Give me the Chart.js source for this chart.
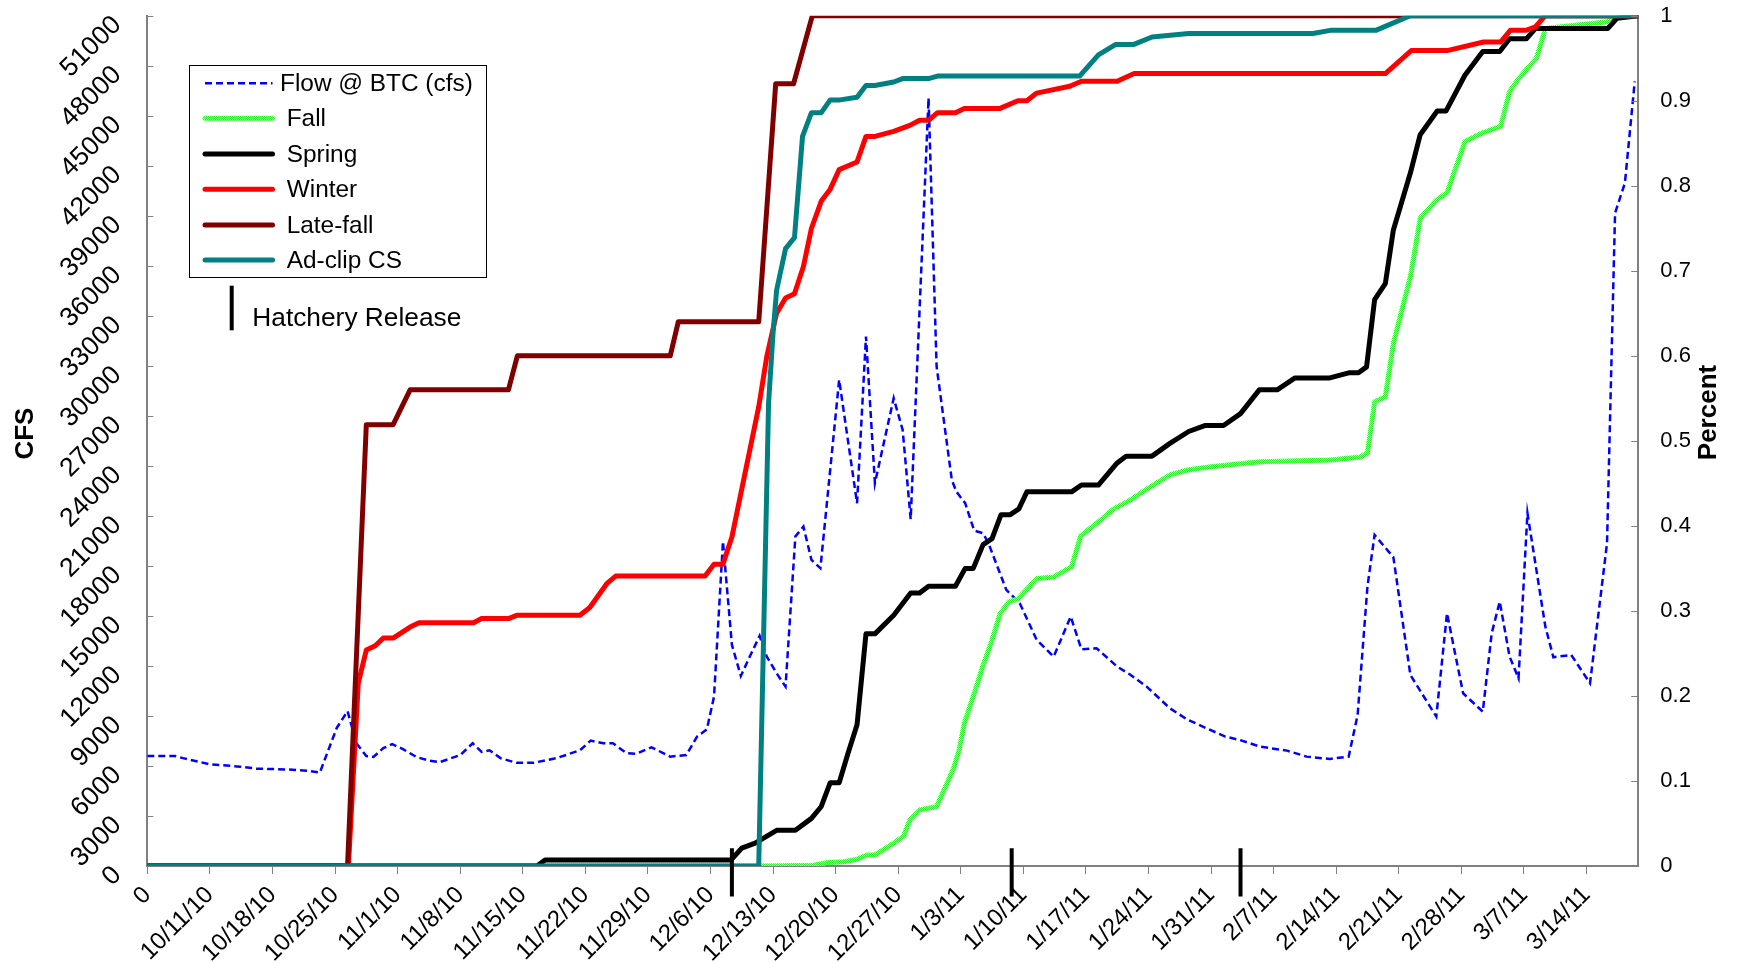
<!DOCTYPE html>
<html><head><meta charset="utf-8">
<script src="https://cdn.jsdelivr.net/npm/chart.js@4.4.0/dist/chart.umd.min.js"></script>
<style>html,body{margin:0;padding:0;background:#fff;overflow:hidden}canvas{display:block}</style>
</head><body>
<canvas id="c" width="1739" height="963"></canvas>
<script>
// ---------- DATA ----------
// x = days since 10/4/10
const xTickLabels = ["0","10/11/10","10/18/10","10/25/10","11/1/10","11/8/10","11/15/10","11/22/10","11/29/10","12/6/10","12/13/10","12/20/10","12/27/10","1/3/11","1/10/11","1/17/11","1/24/11","1/31/11","2/7/11","2/14/11","2/21/11","2/28/11","3/7/11","3/14/11"];
const cfsTicks = [0,3000,6000,9000,12000,15000,18000,21000,24000,27000,30000,33000,36000,39000,42000,45000,48000,51000];
const pctTicks = [0,0.1,0.2,0.3,0.4,0.5,0.6,0.7,0.8,0.9,1];

const flowDays = [0,3.1,4.0,7.0,10.4,12.2,15.6,17.8,19.3,21.2,22.4,23.4,24.5,25.3,26.4,27.4,28.6,30.1,31.6,32.7,35.0,36.4,37.4,38.3,39.5,41.3,43.2,45.8,48.4,49.6,51.0,52.1,53.6,54.7,56.4,58.5,60.3,61.5,62.6,63.4,64.4,65.4,66.4,67.4,68.5,69.3,70.4,71.4,72.5,73.4,74.3,75.3,77.4,79.4,80.4,81.4,83.5,84.5,85.4,87.4,88.3,90.0,90.5,91.5,92.5,93.5,94.1,96.1,97.6,99.5,101.4,103.3,104.5,106.2,108.5,109.9,111.8,114.4,116.3,118.5,120.6,122.2,124.5,127.5,129.7,132.3,134.4,135.4,136.5,137.3,139.4,141.3,144.2,145.4,147.2,149.4,150.4,151.3,152.4,153.4,154.4,156.4,157.3,159.3,161.4,163.3,164.2,165.3,166.4];
const flowCfs = [6600,6600,6470,6100,5960,5840,5790,5720,5600,8290,9290,7360,6590,6540,7070,7310,7010,6540,6310,6230,6650,7360,6840,6940,6470,6190,6190,6470,6940,7520,7360,7360,6770,6730,7120,6560,6660,7760,8200,10160,19460,13260,11400,12560,13800,12560,11560,10760,19760,20360,18360,17860,29160,21760,31760,22960,28060,26160,20800,46060,29960,23160,22460,21760,20120,19960,19360,16560,15760,13560,12560,14960,13000,13060,11960,11500,10760,9460,8800,8260,7760,7560,7160,6920,6560,6420,6560,9060,16760,19860,18520,11460,8960,15160,10360,9260,13960,15860,12560,11260,21160,14360,12520,12660,10960,19360,39160,40960,47060];

const fallDays = [0,68.5,74.5,76.0,77.9,79.4,80.5,81.4,83.5,84.6,85.3,86.4,88.3,90.2,90.8,91.4,92.5,93.5,94.5,95.4,96.4,97.4,99.5,101.4,103.4,104.4,106.2,108.1,109.9,112.2,114.4,116.5,118.5,122.2,124.5,132.3,135.7,136.5,137.3,138.5,139.4,141.3,142.4,144.2,145.4,147.4,149.3,151.4,152.4,153.4,155.4,156.4,163.3,164.7,166.8];
const fallPct = [0,0,0.001,0.004,0.005,0.008,0.013,0.013,0.027,0.035,0.054,0.066,0.070,0.115,0.136,0.168,0.203,0.236,0.266,0.297,0.311,0.314,0.338,0.340,0.352,0.388,0.403,0.420,0.430,0.446,0.460,0.466,0.469,0.473,0.4755,0.4775,0.481,0.486,0.546,0.552,0.615,0.693,0.762,0.783,0.792,0.852,0.862,0.870,0.911,0.926,0.950,0.985,0.993,0.998,1];

const springDays = [0,43.6,44.5,65.3,66.5,68.0,70.4,72.5,74.3,75.4,76.4,77.4,78.4,79.4,80.4,81.4,83.5,85.4,86.4,87.4,90.4,91.5,92.4,93.5,94.5,95.5,96.5,97.5,98.4,103.4,104.5,106.4,108.5,109.5,112.4,114.4,116.5,118.3,120.4,122.3,124.4,126.4,128.4,132.3,134.4,135.5,136.4,137.3,138.5,139.4,141.3,142.4,144.3,145.3,147.4,149.4,151.3,152.4,154.3,155.3,163.4,164.4,166.8];
const springPct = [0,0,0.007,0.007,0.021,0.027,0.042,0.042,0.056,0.070,0.098,0.098,0.133,0.166,0.273,0.273,0.295,0.321,0.321,0.329,0.329,0.350,0.350,0.378,0.385,0.413,0.413,0.420,0.440,0.440,0.448,0.448,0.474,0.482,0.482,0.497,0.511,0.518,0.518,0.532,0.560,0.560,0.574,0.574,0.580,0.580,0.587,0.666,0.685,0.748,0.815,0.860,0.888,0.888,0.930,0.958,0.958,0.973,0.973,0.985,0.985,0.997,1];

const winterDays = [0,22.5,23.6,24.5,25.5,26.4,27.5,29.4,30.4,36.5,37.4,40.4,41.4,48.4,49.5,51.4,52.4,62.4,63.4,64.4,65.4,68.4,69.3,70.4,71.4,72.4,73.4,74.3,75.4,76.4,77.4,79.4,80.4,81.4,83.5,85.3,86.4,87.4,88.4,90.4,91.4,95.4,97.4,98.4,99.5,103.2,104.5,108.5,110.4,138.5,141.4,145.4,149.5,151.4,152.5,154.3,155.3,156.4,166.8];
const winterPct = [0,0,0.215,0.254,0.259,0.268,0.268,0.281,0.286,0.286,0.291,0.291,0.295,0.295,0.304,0.332,0.341,0.341,0.355,0.355,0.387,0.540,0.599,0.650,0.668,0.673,0.705,0.750,0.782,0.796,0.819,0.828,0.858,0.858,0.864,0.871,0.877,0.877,0.886,0.886,0.891,0.891,0.900,0.900,0.909,0.917,0.923,0.923,0.932,0.932,0.959,0.959,0.969,0.969,0.983,0.983,0.987,1,1];

const lateFallDays = [0,22.4,24.5,27.5,29.4,40.4,41.4,58.5,59.4,68.4,70.3,72.3,74.4,166.8];
const lateFallPct = [0,0,0.519,0.519,0.56,0.56,0.6,0.6,0.64,0.64,0.92,0.92,1,1];

const adClipDays = [0,68.4,69.5,70.0,70.4,71.4,72.4,73.3,74.3,75.4,76.4,77.5,79.4,80.4,81.4,83.5,84.5,87.4,88.4,104.3,106.4,108.3,110.3,112.4,116.5,130.4,132.5,137.5,141.3,166.8];
const adClipPct = [0,0,0.544,0.626,0.677,0.726,0.739,0.858,0.886,0.886,0.901,0.901,0.904,0.918,0.918,0.922,0.926,0.926,0.929,0.929,0.954,0.966,0.966,0.975,0.979,0.979,0.983,0.983,1,1];

const hatcheryDays = [65.4, 96.7, 122.3];

// ---------- STYLE ----------
const FONT = '"Liberation Sans", Arial, Helvetica, sans-serif';
Chart.defaults.font.family = FONT;
Chart.defaults.color = '#000';
const AXIS_GREY = '#808080';
const X_MAX = 166.8;
const HATCH_TOP = 0.021, HATCH_BOTTOM = -0.036;

const canvas = document.getElementById('c');
const mainCtx = canvas.getContext('2d');
const pc = document.createElement('canvas'); pc.width = 2; pc.height = 2;
const pg = pc.getContext('2d');
pg.fillStyle = '#c4ffc4'; pg.fillRect(0,0,2,2);
pg.fillStyle = '#2eee2e'; pg.fillRect(0,0,1,1); pg.fillRect(1,1,1,1);
const fallPattern = mainCtx.createPattern(pc, 'repeat');

const toXY = (xs, ys) => xs.map((x,i) => ({x, y: ys[i]}));
const hatchData = [];
hatcheryDays.forEach(d => { hatchData.push({x:d, y:HATCH_TOP}, {x:d, y:HATCH_BOTTOM}, {x:d, y:null}); });

const thick = {borderWidth:5, borderJoinStyle:'round', borderCapStyle:'round', pointRadius:0, tension:0, fill:false};

const datasets = [
  {label:'Flow @ BTC (cfs)', data: toXY(flowDays, flowCfs), yAxisID:'y', borderColor:'#0000ff', borderWidth:2.5, borderDash:[7,4], pointRadius:0, tension:0, fill:false, order:6},
  Object.assign({label:'Fall', data: toXY(fallDays, fallPct), yAxisID:'yR', borderColor: fallPattern, order:5}, thick),
  Object.assign({label:'Spring', data: toXY(springDays, springPct), yAxisID:'yR', borderColor:'#000000', order:4}, thick),
  Object.assign({label:'Winter', data: toXY(winterDays, winterPct), yAxisID:'yR', borderColor:'#ff0000', order:3}, thick),
  Object.assign({label:'Late-fall', data: toXY(lateFallDays, lateFallPct), yAxisID:'yR', borderColor:'#800000', order:2}, thick),
  Object.assign({label:'Ad-clip CS', data: toXY(adClipDays, adClipPct), yAxisID:'yR', borderColor:'#008080', order:1}, thick),
  {label:'Hatchery Release', data: hatchData, yAxisID:'yR', borderColor:'#000000', borderWidth:4, pointRadius:0, spanGaps:false, clip:false, order:0}
];

const legendItems = [
  {text:'Flow @ BTC (cfs)', color:'#0000ff', width:2.5, dash:[7,4], tx:280},
  {text:'Fall', color:fallPattern, width:5, tx:286.7},
  {text:'Spring', color:'#000000', width:5, tx:286.7},
  {text:'Winter', color:'#ff0000', width:5, tx:286.7},
  {text:'Late-fall', color:'#800000', width:5, tx:286.7},
  {text:'Ad-clip CS', color:'#008080', width:5, tx:286.7}
];

const decor = {
  id:'decor',
  afterDraw(chart){
    const ctx = chart.ctx, a = chart.chartArea;
    const yL = chart.scales.y, yR = chart.scales.yR;
    ctx.save();
    // inward tick marks
    ctx.strokeStyle = AXIS_GREY; ctx.lineWidth = 1;
    yL.ticks.forEach(t => { const py = Math.round(yL.getPixelForValue(t.value)) + 0.5; ctx.beginPath(); ctx.moveTo(a.left, py); ctx.lineTo(a.left + 6, py); ctx.stroke(); });
    yR.ticks.forEach(t => { const py = Math.round(yR.getPixelForValue(t.value)) + 0.5; ctx.beginPath(); ctx.moveTo(a.right, py); ctx.lineTo(a.right - 7, py); ctx.stroke(); });
    // axis titles
    ctx.fillStyle = '#000'; ctx.font = 'bold 26px ' + FONT; ctx.textAlign = 'center'; ctx.textBaseline = 'middle';
    ctx.save(); ctx.translate(25.5, 433.6); ctx.rotate(-Math.PI/2); ctx.fillText('CFS', 0, 0); ctx.restore();
    ctx.save(); ctx.translate(1709, 412.5); ctx.rotate(-Math.PI/2); ctx.fillText('Percent', 0, 0); ctx.restore();
    // legend box
    ctx.fillStyle = '#fff'; ctx.fillRect(189.3, 65.7, 297.4, 211.6);
    ctx.strokeStyle = '#000'; ctx.lineWidth = 1; ctx.strokeRect(189.5, 65.5, 297, 212);
    const rowY = [83.3, 118.3, 154, 189.3, 225, 260];
    ctx.textAlign = 'left'; ctx.textBaseline = 'middle'; ctx.font = '24.4px ' + FONT;
    legendItems.forEach((it, i) => {
      const y = rowY[i];
      ctx.save();
      ctx.strokeStyle = it.color; ctx.lineWidth = it.width; ctx.lineCap = it.dash ? 'butt' : 'round';
      ctx.setLineDash(it.dash || []);
      ctx.beginPath(); ctx.moveTo(205, y); ctx.lineTo(272.5, y); ctx.stroke();
      ctx.restore();
      ctx.fillStyle = '#000'; ctx.fillText(it.text, it.tx, y + 1);
    });
    // hatchery release key
    ctx.strokeStyle = '#000'; ctx.lineWidth = 4; ctx.setLineDash([]); ctx.lineCap = 'butt';
    ctx.beginPath(); ctx.moveTo(231.7, 285.7); ctx.lineTo(231.7, 330.3); ctx.stroke();
    ctx.font = '26.3px ' + FONT; ctx.textBaseline = 'alphabetic'; ctx.fillStyle = '#000';
    ctx.fillText('Hatchery Release', 252.3, 326.4);
    ctx.restore();
  }
};

new Chart(canvas, {
  type:'line',
  data:{datasets},
  options:{
    responsive:false, animation:false, devicePixelRatio:1,
    layout:{padding:{top:15.7, left:0, right:0, bottom:0}},
    plugins:{legend:{display:false}, tooltip:{enabled:false}},
    scales:{
      x:{type:'linear', position:'bottom', min:0, max:X_MAX,
        afterBuildTicks: s => { s.ticks = xTickLabels.map((_, i) => ({value: i*7})); },
        ticks:{autoSkip:false, minRotation:45, maxRotation:45, font:{size:24}, color:'#000', padding:7,
          callback:(v, i) => xTickLabels[i]},
        grid:{drawOnChartArea:false, drawTicks:true, tickLength:8, color:AXIS_GREY, lineWidth:1},
        border:{display:true, color:AXIS_GREY, width:2},
        afterFit: s => { s.height = 97; s.paddingLeft = 0; s.paddingRight = 0; }
      },
      y:{type:'linear', position:'left', min:0, max:51000,
        afterBuildTicks: s => { s.ticks = cfsTicks.map(v => ({value:v})); },
        ticks:{autoSkip:false, minRotation:45, maxRotation:45, font:{size:26.5}, color:'#000', padding:30, labelOffset:5,
          callback:(v) => String(v)},
        grid:{drawOnChartArea:false, drawTicks:false},
        border:{display:true, color:AXIS_GREY, width:2},
        afterFit: s => { s.width = 147.3; s.paddingTop = 0; s.paddingBottom = 0; }
      },
      yR:{type:'linear', position:'right', min:0, max:1,
        afterBuildTicks: s => { s.ticks = pctTicks.map(v => ({value:v})); },
        ticks:{autoSkip:false, font:{size:22}, color:'#000', padding:22,
          callback:(v) => String(v)},
        grid:{drawOnChartArea:false, drawTicks:false},
        border:{display:true, color:AXIS_GREY, width:2},
        afterFit: s => { s.width = 100.7; s.paddingTop = 0; s.paddingBottom = 0; }
      }
    }
  },
  plugins:[decor]
});
</script>
</body></html>
